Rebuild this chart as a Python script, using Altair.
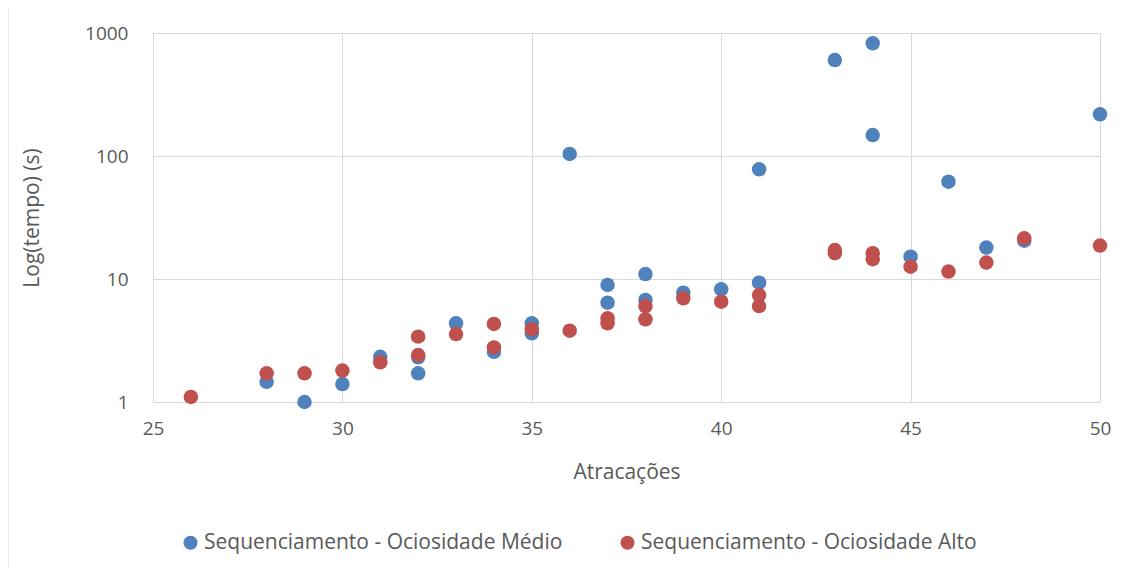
import altair as alt
import pandas as pd

# Sequenciamento - Ociosidade Médio
medio_x = [28, 29, 30, 31, 32, 32, 33, 34, 35, 35, 36, 37, 37, 38, 38, 39, 40, 41, 41, 43, 44, 44, 45, 46, 47, 48, 50]
medio_y = [1.46, 1.0, 1.4, 2.33, 2.31, 1.71, 4.36, 2.56, 4.36, 3.62, 104, 8.94, 6.42, 10.98, 6.75, 7.74, 8.25, 9.33, 78, 603, 825, 148, 15.2, 61.8, 18.0, 20.5, 218]

# Sequenciamento - Ociosidade Alto
alto_x = [26, 28, 29, 30, 31, 32, 32, 33, 34, 34, 35, 36, 37, 37, 38, 38, 39, 40, 41, 41, 43, 43, 44, 44, 45, 46, 47, 48, 50]
alto_y = [1.10, 1.71, 1.71, 1.80, 2.10, 3.40, 2.41, 3.57, 4.31, 2.78, 3.90, 3.80, 4.79, 4.36, 6.03, 4.70, 6.97, 6.54, 7.41, 6.03, 17.2, 16.2, 16.2, 14.5, 12.6, 11.5, 13.6, 21.4, 18.7]

series = ["Sequenciamento - Ociosidade Médio", "Sequenciamento - Ociosidade Alto"]
colors = ["#4F81BD", "#C0504D"]
x_ticks = [25, 30, 35, 40, 45, 50]
y_ticks = [1, 10, 100, 1000]

rows = []
for i, (xs, ys) in enumerate([(medio_x, medio_y), (alto_x, alto_y)]):
    for a, b in zip(xs, ys):
        rows.append({"Atracações": a, "tempo": b, "Série": series[i], "ordem": i})
df = pd.DataFrame(rows)

W, H = 947, 369
FONT = "Open Sans"
GRAY = "#595959"

points = alt.Chart(df).mark_circle(size=210, opacity=1, clip=False).encode(
    x=alt.X("Atracações:Q",
            scale=alt.Scale(domain=[25, 50], nice=False, zero=False),
            axis=alt.Axis(values=x_ticks, title="Atracações", grid=True, labelFlush=False,
                          gridColor="#d9d9d9", domainColor="#d9d9d9", ticks=False,
                          labelPadding=17, labelFontSize=19, labelColor=GRAY, labelFont=FONT,
                          titleFontSize=21, titleColor=GRAY, titleFont=FONT, titleFontWeight="normal",
                          titleY=70, titleBaseline="middle")),
    y=alt.Y("tempo:Q",
            scale=alt.Scale(type="log", domain=[1, 1000], nice=False),
            axis=alt.Axis(values=y_ticks, title="Log(tempo) (s)", grid=True, format="d",
                          labelFlush=False,
                          gridColor="#d9d9d9", domainColor="#d9d9d9", ticks=False,
                          labelPadding=25, labelFontSize=19, labelColor=GRAY, labelFont=FONT,
                          titleFontSize=21, titleColor=GRAY, titleFont=FONT, titleFontWeight="normal",
                          titleX=-121, titleY=H / 2, titleAngle=-90, titleBaseline="middle")),
    color=alt.Color("Série:N", scale=alt.Scale(domain=series, range=colors),
                    legend=alt.Legend(title=None, orient="none", direction="horizontal",
                                      legendX=27, legendY=499, symbolType="circle", symbolSize=200,
                                      symbolOpacity=1, labelFontSize=21, labelColor=GRAY,
                                      labelFont=FONT, columnPadding=54, labelOffset=3,
                                      labelLimit=600)),
    order=alt.Order("ordem:Q"),
)

border = alt.Chart(pd.DataFrame({"a": [0]})).mark_rect(
    fill=None, stroke="#d9d9d9", strokeWidth=1, clip=False
).encode(x=alt.value(-145), x2=alt.value(1126), y=alt.value(-28), y2=alt.value(600))

chart = alt.layer(border, points).properties(
    width=W, height=H,
    autosize=alt.AutoSizeParams(type="none"),
    padding={"left": 145, "top": 25, "right": 26, "bottom": 167},
).configure_view(stroke=None)

chart.save("out.html", embed_options={"renderer": "svg", "actions": False})
